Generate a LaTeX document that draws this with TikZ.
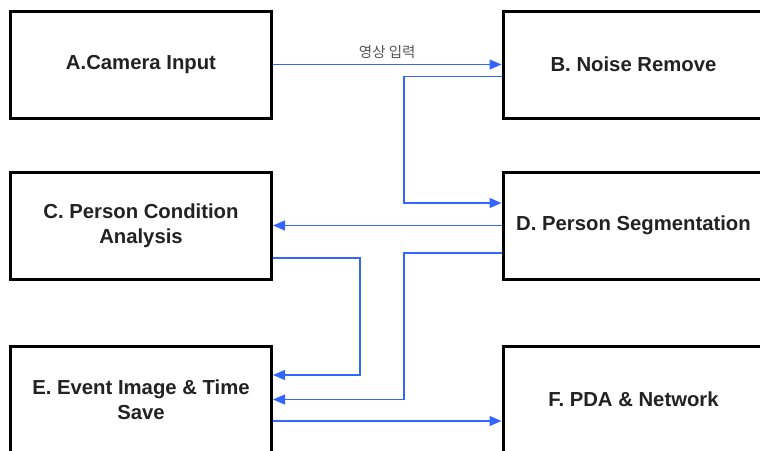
\documentclass[tikz,border=0pt]{standalone}
\usepackage{fontspec}
\setmainfont{Liberation Sans}
\newfontfamily\krfont{Noto Sans CJK KR}
\usetikzlibrary{arrows.meta,calc}
\definecolor{flowblue}{HTML}{3366FF}
\definecolor{inkgray}{HTML}{222222}
\definecolor{labelgray}{HTML}{555555}
\tikzset{
  stage/.style={draw=black, line width=3pt, fill=white, minimum width=261pt,
    minimum height=107pt, inner sep=0pt, align=center, text=inkgray,
    font=\fontsize{20.3}{24.5}\selectfont\bfseries},
  flow/.style={draw=flowblue, line width=1.3pt,
    -{Triangle[length=12pt,width=10pt]}}
}
\begin{document}
\begin{tikzpicture}[x=1pt,y=-1pt]
  \useasboundingbox (0,0) rectangle (760,450);
  \clip (0,0) rectangle (760,450);
  \fill[white] (0,0) rectangle (760,450);

  % processing stages
  \node[stage] (A) at (141,64.5)  {A.Camera Input};
  \node[stage] (B) at (633.5,64.5) {B. Noise Remove};
  \node[stage] (C) at (141,225.5) {C. Person Condition\\Analysis};
  \node[stage] (D) at (633.5,225.5) {D. Person Segmentation};
  \node[stage] (E) at (141,399.5) {E. Event Image \& Time\\Save};
  \node[stage] (F) at (633.5,399.5) {F. PDA \& Network};

  % vertical bus positions
  \coordinate (busR) at (404,0);
  \coordinate (busL) at (360,0);

  % A -> B
  \draw[flow] (A.east) -- node[above=2pt, text=labelgray,
    font=\krfont\fontsize{14.5}{17}\selectfont] (lbl) {영상 입력} (B.west);

  % B -> D
  \draw[flow] ([yshift=-12pt]B.west)
    -- ([yshift=-12pt]B.west -| busR)
    -- ([yshift=22.5pt]D.west -| busR)
    -- ([yshift=22.5pt]D.west);

  % D -> C
  \draw[flow] (D.west) -- (C.west -| C.east);

  % C -> E
  \draw[flow] ([yshift=-32.5pt]C.east)
    -- ([yshift=-32.5pt]C.east -| busL)
    -- ([yshift=24.5pt]E.east -| busL)
    -- ([yshift=24.5pt]E.east);

  % D -> E
  \draw[flow] ([yshift=-27.5pt]D.west)
    -- ([yshift=-27.5pt]D.west -| busR)
    -- (E.east -| busR)
    -- (E.east);

  % E -> F
  \draw[flow] ([yshift=-21.5pt]E.east) -- ([yshift=-21.5pt]F.west);
\end{tikzpicture}
\end{document}
